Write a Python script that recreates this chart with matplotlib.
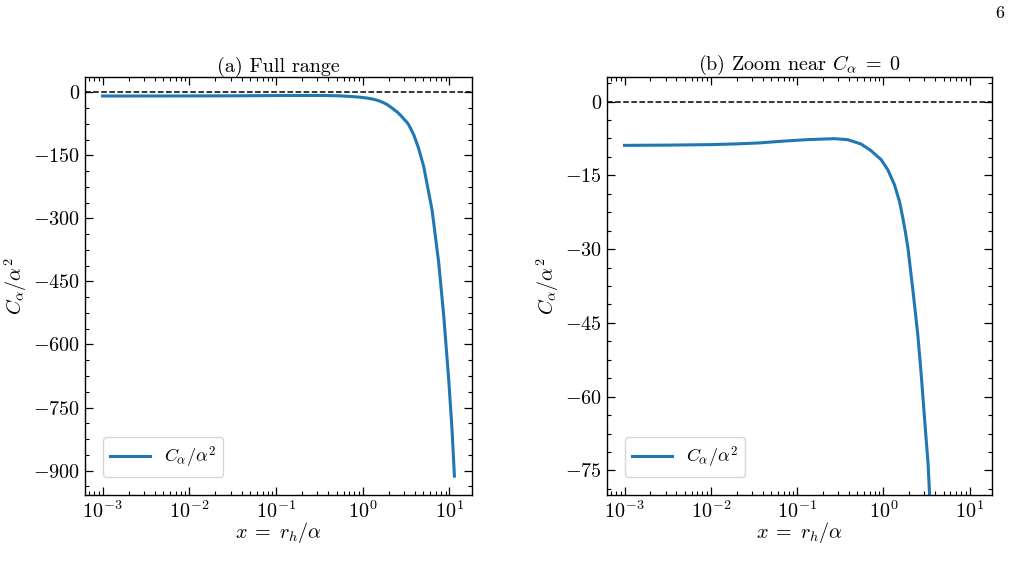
import matplotlib
matplotlib.use("Agg")
import matplotlib.pyplot as plt
import numpy as np
from matplotlib.ticker import MultipleLocator, AutoMinorLocator

plt.rcParams.update({
    "font.family": "serif",
    "font.serif": ["cmr10"],
    "mathtext.fontset": "cm",
    "axes.formatter.use_mathtext": True,
    "font.size": 14,
    "axes.unicode_minus": True,
})

# Data: x = r_h/alpha and C_alpha/alpha^2
x_vals = [1.0e-3, 3.2e-3, 1.0e-2, 0.02, 0.037, 0.0643, 0.1315, 0.2685, 0.385, 0.551,
          0.720, 0.942, 1.127, 1.346, 1.539, 1.686, 1.808, 1.93, 2.20, 2.51,
          2.75, 3.01, 3.30, 3.44, 3.87, 4.40, 5.05, 6.31, 7.52, 8.59,
          9.82, 10.7, 11.4]
c_vals = [-8.9, -8.85, -8.75, -8.6, -8.4, -8.08, -7.74, -7.54, -7.74, -8.62,
          -9.98, -11.8, -13.85, -16.9, -20.3, -23.7, -26.7, -29.8, -38.3, -47.4,
          -55.5, -64.6, -73.6, -80.0, -101, -133, -177, -281, -406, -532,
          -686, -802, -913]

series_label = r"$C_\alpha/\alpha^2$"
titles = ["(a) Full range", r"(b) Zoom near $C_\alpha\;=\;0$"]

fig = plt.figure(figsize=(10.14, 5.74), dpi=100)
ax1 = fig.add_axes([85/1014, 79/574, 387/1014, 418/574])
ax2 = fig.add_axes([607/1014, 79/574, 385/1014, 418/574])

for ax, title in zip([ax1, ax2], titles):
    ax.plot(x_vals, c_vals, color="#1f77b4", lw=2.2, label=series_label)
    ax.axhline(0, color="black", ls="--", lw=1.1)
    ax.set_xscale("log")
    ax.set_title(title, fontsize=14.5, pad=4)
    ax.set_xlabel(r"$x\;=\;r_h/\alpha$", fontsize=14.5, labelpad=-1)
    ax.set_ylabel(series_label, fontsize=14.5, labelpad=3)
    ax.tick_params(which="both", direction="in", top=True, right=True,
                   labelsize=14.5)
    ax.tick_params(which="major", length=6, width=0.9)
    ax.tick_params(which="minor", length=3, width=0.8)
    ax.legend(loc="lower left", fontsize=13, borderpad=0.4, handlelength=2.2,
              borderaxespad=1.0)
    for s in ax.spines.values():
        s.set_linewidth(1.0)

ax1.set_ylim(-958, 36.3)
ax1.yaxis.set_major_locator(MultipleLocator(150))
ax1.yaxis.set_minor_locator(AutoMinorLocator(4))
ax2.set_ylim(-80, 5)
ax2.yaxis.set_major_locator(MultipleLocator(15))
ax2.yaxis.set_minor_locator(AutoMinorLocator(4))
ax2.set_xlim(ax1.get_xlim())

fig.text(1000/1014, 1 - 13/574, "6", ha="center", va="center", fontsize=13)

fig.savefig("out.png", dpi=100)
